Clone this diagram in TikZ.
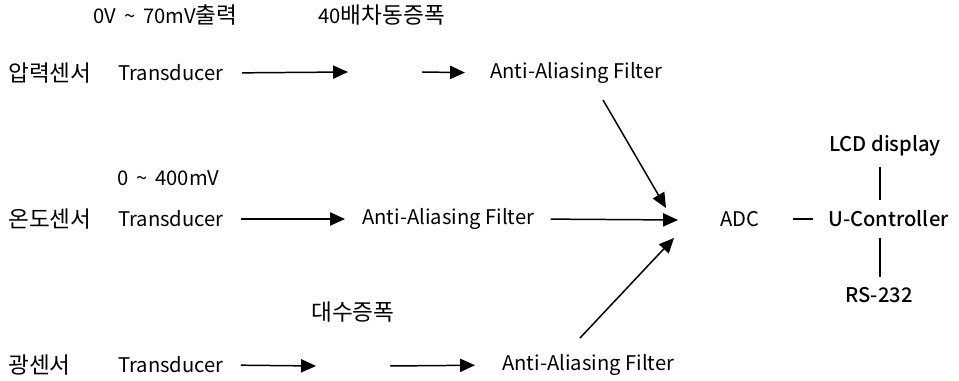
\documentclass[tikz,border=0pt]{standalone}
\usepackage{fontspec}
\setmainfont{Noto Sans CJK KR}[BoldFont={Noto Sans CJK KR Medium}]
\newfontfamily\hangul{Noto Sans CJK KR}[Scale=1.12]
\usetikzlibrary{arrows.meta}

\begin{document}
\begin{tikzpicture}[x=0.02cm,y=-0.02cm,
  lbl/.style={inner sep=0pt,anchor=west,font=\fontsize{11.5}{13}\selectfont},
  blbl/.style={lbl,font=\fontsize{11.5}{13}\selectfont\bfseries},
  sig/.style={line width=0.85pt,-{Triangle[length=8.5pt,width=7.5pt]}},
  wire/.style={line width=0.85pt}]
\useasboundingbox (0,0) rectangle (959,381);

% pressure
\node[lbl] (s1) at (8,73) {\hangul 압력센서};
\node[lbl] (t1) at (118,73) {Transducer};
\node[lbl] (f1) at (490,73) {Anti-Aliasing Filter};
\node[lbl] (v1) at (93,15) {0V \,\textasciitilde\, 70mV{\hangul 출력}};
\node[lbl] (g1) at (318,15) {40{\hangul 배차동증폭}};
\coordinate (a1) at (348,72);
\coordinate (b1) at (422,72);

% temperature
\node[lbl] (s2) at (8,219) {\hangul 온도센서};
\node[lbl] (t2) at (118,219) {Transducer};
\node[lbl] (f2) at (362,219) {Anti-Aliasing Filter};
\node[lbl] (v2) at (117,178) {0 \,\textasciitilde\, 400mV};
\node[lbl] (adc) at (720,219) {ADC};
\node[blbl] (uc) at (828,219) {U-Controller};
\node[blbl,anchor=center] (lcd) at (885,146) {LCD display};
\node[blbl,anchor=center] (rs) at (879,295) {RS-232};

% light
\node[lbl] (s3) at (8,365) {\hangul 광센서};
\node[lbl] (t3) at (118,365) {Transducer};
\node[lbl] (f3) at (502,365) {Anti-Aliasing Filter};
\node[lbl] (g3) at (311,312) {\hangul 대수증폭};
\coordinate (a3) at (316,366);
\coordinate (b3) at (390,366);

% inputs of the ADC
\coordinate (in1) at (666,208);
\coordinate (in2) at (678,220);
\coordinate (in3) at (674,238);
\coordinate (d1) at (603,100);
\coordinate (d3) at (580,338);

\draw[sig,shorten <=0.36cm] (t1.east) -- (a1);
\draw[sig,shorten >=0.5cm] (b1) -- (f1.west);
\draw[sig] (d1) -- (in1);

\draw[sig,shorten <=0.34cm,shorten >=0.34cm] (t2.east) -- (f2.west);
\draw[sig,shorten <=0.32cm] (f2.east) -- (in2);

\draw[sig,shorten <=0.34cm] (t3.east) -- (a3);
\draw[sig,shorten >=0.54cm] (b3) -- (f3.west);
\draw[sig] (d3) -- (in3);

\draw[wire,shorten <=0.66cm,shorten >=0.3cm] (adc.east) -- (uc.west);
\draw[wire,shorten <=0.2cm,shorten >=0.2cm] ([xshift=-0.1cm]lcd.south) -- ([xshift=-0.1cm]lcd.south |- uc.north);
\draw[wire,shorten <=0.2cm,shorten >=0.2cm] ([xshift=-0.1cm]lcd.south |- uc.south) -- ([xshift=-0.1cm]lcd.south |- rs.north);
\end{tikzpicture}
\end{document}
